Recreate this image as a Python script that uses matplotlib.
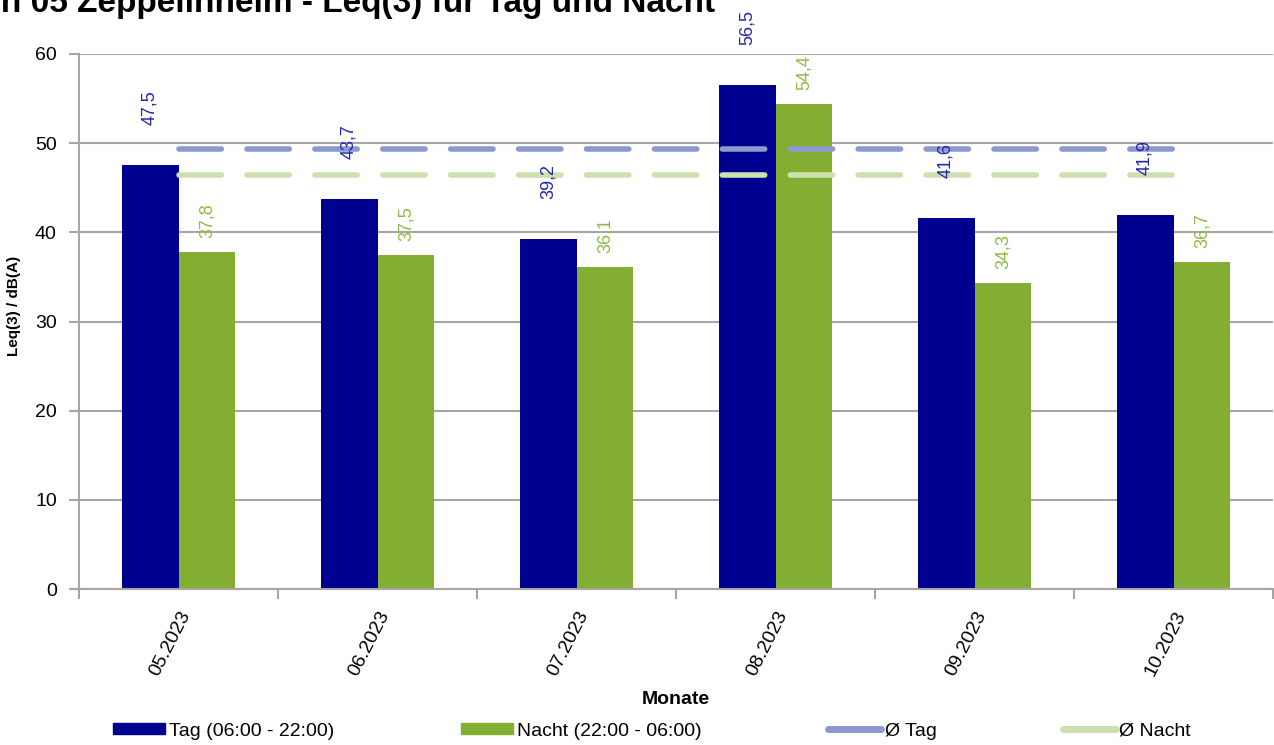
import matplotlib.pyplot as plt
from matplotlib.lines import Line2D
from matplotlib.patches import Patch
import numpy as np

plt.rcParams['font.family'] = ['Liberation Sans', 'DejaVu Sans']

monate = ['05.2023', '06.2023', '07.2023', '08.2023', '09.2023', '10.2023']
tag = [47.5, 43.7, 39.2, 56.5, 41.6, 41.9]
nacht = [37.8, 37.5, 36.1, 54.4, 34.3, 36.7]
avg_tag = [49.4] * len(monate)
avg_nacht = [46.4] * len(monate)

c_tag = '#000090'
c_nacht = '#84ae32'
c_avg_tag = '#8c99cf'
c_avg_nacht = '#cce0b0'
c_lbl_tag = '#2424b4'
c_lbl_nacht = '#8cbb44'
c_grid = '#a6a6a6'

fig = plt.figure(figsize=(12.74, 7.45), dpi=100)
ax = fig.add_axes([79 / 1274, 1 - 589 / 745, 1194 / 1274, 535 / 745])

x = np.arange(len(monate))
w = 0.286
ax.bar(x - w / 2, tag, w, color=c_tag, zorder=2)
ax.bar(x + w / 2, nacht, w, color=c_nacht, zorder=2)

# Durchschnittslinien
lw = 4
ax.plot(x, avg_tag, color=c_avg_tag, lw=lw, dashes=(30.5 / lw, 18.4 / lw),
        dash_capstyle='round', zorder=3)
ax.plot(x, avg_nacht, color=c_avg_nacht, lw=lw, dashes=(30.5 / lw, 18.4 / lw),
        dash_capstyle='round', zorder=3)

for xi, v in zip(x, tag):
    ax.annotate(f'{v:.1f}'.replace('.', ','), (xi - w / 2, v), xytext=(0, 29),
                textcoords='offset points', rotation=90, ha='center', va='bottom',
                fontsize=13, color=c_lbl_tag, zorder=4)
for xi, v in zip(x, nacht):
    ax.annotate(f'{v:.1f}'.replace('.', ','), (xi + w / 2, v), xytext=(0, 10),
                textcoords='offset points', rotation=90, ha='center', va='bottom',
                fontsize=13, color=c_lbl_nacht, zorder=4)

ax.set_xlim(-0.5, len(monate) - 0.5)
ax.set_ylim(0, 60)
ax.set_yticks(range(0, 61, 10))
ax.yaxis.grid(True, color=c_grid, lw=1.5, zorder=0)
ax.set_axisbelow(True)

ax.set_xticks(x)
ax.set_xticklabels(monate, rotation=63, ha='right', va='top', rotation_mode='anchor', fontsize=14)
ax.set_xticks(np.arange(-0.5, len(monate), 1), minor=True)
ax.tick_params(axis='x', which='major', length=0, pad=14)
ax.tick_params(axis='x', which='minor', length=7, color=c_grid, width=1.5)
ax.tick_params(axis='y', length=7, color=c_grid, width=1.5, pad=9, labelsize=14)

for s in ['top', 'right']:
    ax.spines[s].set_visible(False)
for s in ['left', 'bottom']:
    ax.spines[s].set_color(c_grid)
    ax.spines[s].set_linewidth(1.5)

ax.set_ylabel('Leq(3) / dB(A)', fontsize=11, fontweight='bold')
ax.yaxis.set_label_coords(-58 / 1194, 0.53)
fig.text(676 / 1274, 1 - 700 / 745, 'Monate', ha='center', va='center',
         fontsize=14, fontweight='bold')

fig.text(715 / 1274, 1 - 12 / 745, 'Messstation 05 Zeppelinheim - Leq(3) für Tag und Nacht',
         ha='right', va='baseline', fontsize=24, fontweight='bold')

handles = [
    Patch(facecolor=c_tag, edgecolor=c_tag),
    Patch(facecolor=c_nacht, edgecolor=c_nacht),
    Line2D([0], [0], color=c_avg_tag, lw=5, solid_capstyle='round'),
    Line2D([0], [0], color=c_avg_nacht, lw=5, solid_capstyle='round'),
]
labels = ['Tag (06:00 - 22:00)', 'Nacht (22:00 - 06:00)', 'Ø Tag', 'Ø Nacht']
fig.legend(handles, labels, ncol=4, loc='center', bbox_to_anchor=(652 / 1274, 1 - 731 / 745),
           frameon=False, fontsize=14, handlelength=2.7, handleheight=0.45,
           handletextpad=0.2, columnspacing=6.5)

fig.savefig('out.png', dpi=100)
